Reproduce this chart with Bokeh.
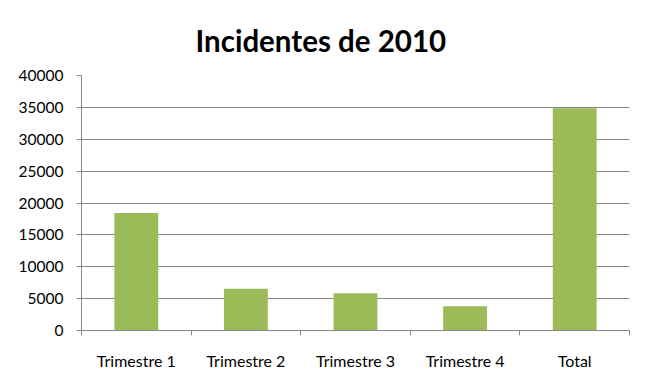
from bokeh.plotting import figure
from bokeh.models import Range1d, FixedTicker
from bokeh.embed import file_html
from bokeh.resources import INLINE

# ---- data ----
categories = ["Trimestre 1", "Trimestre 2", "Trimestre 3", "Trimestre 4", "Total"]
values = [18450, 6550, 5850, 3800, 34850]
y_ticks = [0, 5000, 10000, 15000, 20000, 25000, 30000, 35000, 40000]
title_text = "Incidentes de 2010"

# positions derived from data order
centers = [i + 0.5 for i in range(len(categories))]
bounds = list(range(len(categories) + 1))

GRID = "#868686"
BAR = "#9BBB59"
FONT = "Lato"

p = figure(width=632, height=372, output_backend="svg", toolbar_location=None,
           x_range=Range1d(0, len(categories)), y_range=Range1d(y_ticks[0], y_ticks[-1]),
           min_border_left=81, min_border_right=3, min_border_top=75, min_border_bottom=42,
           title=title_text)

p.title.text_font = FONT
p.title.text_font_size = "29.5px"
p.title.text_font_style = "bold"
p.title.text_color = "#000000"
p.title.align = "left"
p.title.offset = 114
p.title.standoff = 36

p.vbar(x=centers, top=values, width=0.4, fill_color=BAR, line_color=None)

p.outline_line_color = None
p.background_fill_color = "white"
p.border_fill_color = "white"
p.xgrid.visible = False
p.ygrid.grid_line_color = GRID
p.ygrid.grid_line_width = 1

# y axis
p.yaxis.ticker = FixedTicker(ticks=y_ticks)
p.yaxis.axis_line_color = GRID
p.yaxis.major_tick_line_color = GRID
p.yaxis.major_tick_out = 5
p.yaxis.major_tick_in = 0
p.yaxis.minor_tick_line_color = None
p.yaxis.major_label_standoff = 13
p.yaxis.major_label_text_font = FONT
p.yaxis.major_label_text_font_size = "15.5px"
p.yaxis.major_label_text_color = "#000000"

# x axis: labels at centers, tick marks at category boundaries
p.xaxis.ticker = FixedTicker(ticks=centers, minor_ticks=bounds)
p.xaxis.major_label_overrides = {c: lab for c, lab in zip(centers, categories)}
p.xaxis.axis_line_color = GRID
p.xaxis.major_tick_line_color = None
p.xaxis.major_tick_out = 5
p.xaxis.major_tick_in = 0
p.xaxis.minor_tick_line_color = GRID
p.xaxis.minor_tick_out = 5
p.xaxis.minor_tick_in = 0
p.xaxis.major_label_standoff = 15
p.xaxis.major_label_text_font = FONT
p.xaxis.major_label_text_font_size = "16px"
p.xaxis.major_label_text_color = "#000000"

open("out.html", "w").write(file_html(p, INLINE))
